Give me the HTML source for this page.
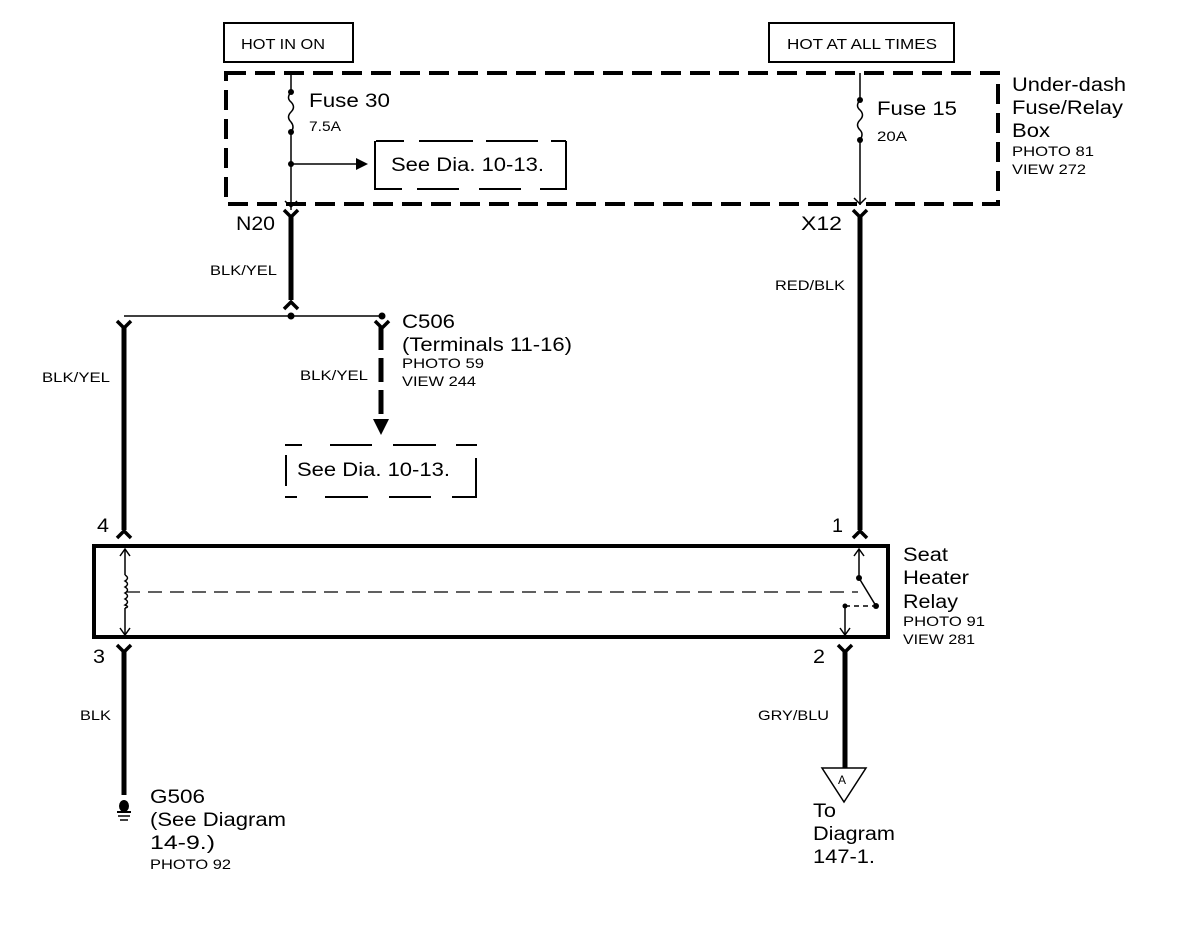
<!DOCTYPE html>
<html><head><meta charset="utf-8"><style>
html,body{margin:0;padding:0;background:#fff;}
svg{display:block;}
text{font-family:"Liberation Sans",Arial,sans-serif;fill:#000;}
</style></head><body>
<svg width="1184" height="940" viewBox="0 0 1184 940" xmlns="http://www.w3.org/2000/svg">
<rect width="1184" height="940" fill="#fff"/>
<rect x="224" y="23" width="129" height="39" fill="none" stroke="#000" stroke-width="2"/>
<text x="241" y="49" font-size="15" textLength="84" lengthAdjust="spacingAndGlyphs">HOT IN ON</text>
<rect x="769" y="23" width="185" height="39" fill="none" stroke="#000" stroke-width="2"/>
<text x="787" y="49" font-size="15" textLength="150" lengthAdjust="spacingAndGlyphs">HOT AT ALL TIMES</text>
<rect x="226" y="73" width="772" height="131" fill="none" stroke="#000" stroke-width="4" stroke-dasharray="20,9"/>
<text x="1012" y="91" font-size="19" textLength="114" lengthAdjust="spacingAndGlyphs">Under-dash</text>
<text x="1012" y="114" font-size="19" textLength="111" lengthAdjust="spacingAndGlyphs">Fuse/Relay</text>
<text x="1012" y="137" font-size="19" textLength="38" lengthAdjust="spacingAndGlyphs">Box</text>
<text x="1012" y="156" font-size="14" textLength="82" lengthAdjust="spacingAndGlyphs">PHOTO 81</text>
<text x="1012" y="174" font-size="14" textLength="74" lengthAdjust="spacingAndGlyphs">VIEW 272</text>
<line x1="291" y1="73" x2="291" y2="92" stroke="#000" stroke-width="1.5"/>
<circle cx="291" cy="92" r="3"/>
<path d="M291 92 q-5 6 0 10 q5 5 0 10 q-5 5 0 10 q4 5 0 10" fill="none" stroke="#000" stroke-width="1.5"/>
<circle cx="291" cy="132" r="3"/>
<line x1="291" y1="132" x2="291" y2="210" stroke="#000" stroke-width="1.5"/>
<circle cx="291" cy="164" r="3"/>
<line x1="291" y1="164" x2="358" y2="164" stroke="#000" stroke-width="1.5"/>
<polygon points="356,158 368,164 356,170"/>
<polyline points="285,201 291,207 297,201" fill="none" stroke="#000" stroke-width="1.5"/>
<text x="309" y="107" font-size="19" textLength="81" lengthAdjust="spacingAndGlyphs">Fuse 30</text>
<text x="309" y="131" font-size="14" textLength="32" lengthAdjust="spacingAndGlyphs">7.5A</text>
<path d="M375 152 V190 M376 189 H402 M417 189 H459 M479 189 H521 M540 189 H566 M566 190 V141 M566 141 H551 M538 141 H486 M473 141 H419 M404 141 H376 M375 152 V141" fill="none" stroke="#000" stroke-width="2"/>
<text x="391" y="171" font-size="19" textLength="153" lengthAdjust="spacingAndGlyphs">See Dia. 10-13.</text>
<line x1="860" y1="73" x2="860" y2="100" stroke="#000" stroke-width="1.5"/>
<circle cx="860" cy="100" r="3"/>
<path d="M860 100 q-5 6 0 10 q5 5 0 10 q-5 5 0 10 q4 4 0 10" fill="none" stroke="#000" stroke-width="1.5"/>
<circle cx="860" cy="140" r="3"/>
<line x1="860" y1="140" x2="860" y2="205" stroke="#000" stroke-width="1.5"/>
<polyline points="854,198 860,204 866,198" fill="none" stroke="#000" stroke-width="1.5"/>
<text x="877" y="115" font-size="19" textLength="80" lengthAdjust="spacingAndGlyphs">Fuse 15</text>
<text x="877" y="141" font-size="14" textLength="30" lengthAdjust="spacingAndGlyphs">20A</text>
<text x="236" y="230" font-size="19" textLength="39" lengthAdjust="spacingAndGlyphs">N20</text>
<polyline points="284,210 291,217 298,210" fill="none" stroke="#000" stroke-width="3.5"/>
<line x1="291" y1="215" x2="291" y2="300" stroke="#000" stroke-width="5"/>
<polyline points="284,309 291,302 298,309" fill="none" stroke="#000" stroke-width="3.5"/>
<text x="210" y="275" font-size="14" textLength="67" lengthAdjust="spacingAndGlyphs">BLK/YEL</text>
<line x1="124" y1="316" x2="382" y2="316" stroke="#000" stroke-width="1.5"/>
<circle cx="291" cy="316" r="3.5"/>
<circle cx="382" cy="316" r="3.5"/>
<polyline points="117,321 124,328 131,321" fill="none" stroke="#000" stroke-width="3.5"/>
<line x1="124" y1="326" x2="124" y2="530" stroke="#000" stroke-width="5"/>
<polyline points="117,538 124,531 131,538" fill="none" stroke="#000" stroke-width="3.5"/>
<text x="42" y="382" font-size="14" textLength="68" lengthAdjust="spacingAndGlyphs">BLK/YEL</text>
<text x="97" y="532" font-size="19" textLength="12" lengthAdjust="spacingAndGlyphs">4</text>
<polyline points="375,321 382,328 389,321" fill="none" stroke="#000" stroke-width="3.5"/>
<line x1="381" y1="326" x2="381" y2="420" stroke="#000" stroke-width="5" stroke-dasharray="24,8"/>
<polygon points="373,419 389,419 381,435"/>
<text x="402" y="328" font-size="19" textLength="53" lengthAdjust="spacingAndGlyphs">C506</text>
<text x="402" y="351" font-size="19" textLength="170" lengthAdjust="spacingAndGlyphs">(Terminals 11-16)</text>
<text x="402" y="368" font-size="14" textLength="82" lengthAdjust="spacingAndGlyphs">PHOTO 59</text>
<text x="402" y="386" font-size="14" textLength="74" lengthAdjust="spacingAndGlyphs">VIEW 244</text>
<text x="300" y="380" font-size="14" textLength="68" lengthAdjust="spacingAndGlyphs">BLK/YEL</text>
<path d="M285 445 H302 M330 445 H372 M393 445 H436 M456 445 H477 M286 455 V486 M476 458 V497 M285 497 H297 M325 497 H368 M389 497 H431 M452 497 H477" fill="none" stroke="#000" stroke-width="2"/>
<text x="297" y="476" font-size="19" textLength="153" lengthAdjust="spacingAndGlyphs">See Dia. 10-13.</text>
<text x="801" y="230" font-size="19" textLength="41" lengthAdjust="spacingAndGlyphs">X12</text>
<polyline points="853,210 860,217 867,210" fill="none" stroke="#000" stroke-width="3.5"/>
<line x1="860" y1="215" x2="860" y2="530" stroke="#000" stroke-width="5"/>
<polyline points="853,538 860,531 867,538" fill="none" stroke="#000" stroke-width="3.5"/>
<text x="775" y="290" font-size="14" textLength="70" lengthAdjust="spacingAndGlyphs">RED/BLK</text>
<text x="832" y="532" font-size="19" textLength="11" lengthAdjust="spacingAndGlyphs">1</text>
<rect x="94" y="546" width="794" height="91" fill="none" stroke="#000" stroke-width="4"/>
<text x="903" y="561" font-size="19" textLength="45" lengthAdjust="spacingAndGlyphs">Seat</text>
<text x="903" y="584" font-size="19" textLength="66" lengthAdjust="spacingAndGlyphs">Heater</text>
<text x="903" y="608" font-size="19" textLength="55" lengthAdjust="spacingAndGlyphs">Relay</text>
<text x="903" y="626" font-size="14" textLength="82" lengthAdjust="spacingAndGlyphs">PHOTO 91</text>
<text x="903" y="644" font-size="14" textLength="72" lengthAdjust="spacingAndGlyphs">VIEW 281</text>
<line x1="125" y1="549" x2="125" y2="575" stroke="#000" stroke-width="1.5"/>
<line x1="125" y1="608" x2="125" y2="635" stroke="#000" stroke-width="1.5"/>
<polyline points="120,556 125,549 130,556" fill="none" stroke="#000" stroke-width="1.5"/>
<polyline points="120,628 125,635 130,628" fill="none" stroke="#000" stroke-width="1.5"/>
<path d="M125 575 q5 3 0 6 q5 3 0 6 q5 3 0 6 q5 3 0 6 q5 3 0 6 q5 2 0 3" fill="none" stroke="#000" stroke-width="1.5"/>
<line x1="126" y1="592" x2="858" y2="592" stroke="#000" stroke-width="1.2" stroke-dasharray="14,8"/>
<line x1="859" y1="549" x2="859" y2="578" stroke="#000" stroke-width="1.5"/>
<polyline points="854,556 859,549 864,556" fill="none" stroke="#000" stroke-width="1.5"/>
<circle cx="859" cy="578" r="3"/>
<line x1="859" y1="578" x2="876" y2="606" stroke="#000" stroke-width="1.5"/>
<circle cx="876" cy="606" r="3"/>
<line x1="845" y1="606" x2="873" y2="606" stroke="#000" stroke-width="1.5" stroke-dasharray="5,4"/>
<circle cx="845" cy="606" r="2.5"/>
<line x1="845" y1="606" x2="845" y2="635" stroke="#000" stroke-width="1.5"/>
<polyline points="840,628 845,635 850,628" fill="none" stroke="#000" stroke-width="1.5"/>
<text x="93" y="663" font-size="19" textLength="12" lengthAdjust="spacingAndGlyphs">3</text>
<polyline points="117,645 124,652 131,645" fill="none" stroke="#000" stroke-width="3.5"/>
<line x1="124" y1="650" x2="124" y2="795" stroke="#000" stroke-width="5"/>
<text x="80" y="720" font-size="14" textLength="31" lengthAdjust="spacingAndGlyphs">BLK</text>
<ellipse cx="124" cy="806" rx="5" ry="6"/>
<line x1="117" y1="812" x2="131" y2="812" stroke="#000" stroke-width="2"/>
<line x1="118" y1="816" x2="130" y2="816" stroke="#000" stroke-width="1.5"/>
<line x1="120" y1="820" x2="128" y2="820" stroke="#000" stroke-width="1.5"/>
<text x="150" y="803" font-size="19" textLength="55" lengthAdjust="spacingAndGlyphs">G506</text>
<text x="150" y="826" font-size="19" textLength="136" lengthAdjust="spacingAndGlyphs">(See Diagram</text>
<text x="150" y="849" font-size="19" textLength="65" lengthAdjust="spacingAndGlyphs">14-9.)</text>
<text x="150" y="869" font-size="14" textLength="81" lengthAdjust="spacingAndGlyphs">PHOTO 92</text>
<text x="813" y="663" font-size="19" textLength="12" lengthAdjust="spacingAndGlyphs">2</text>
<polyline points="838,645 845,652 852,645" fill="none" stroke="#000" stroke-width="3.5"/>
<line x1="845" y1="650" x2="845" y2="768" stroke="#000" stroke-width="5"/>
<text x="758" y="720" font-size="14" textLength="71" lengthAdjust="spacingAndGlyphs">GRY/BLU</text>
<polygon points="822,768 866,768 844,802" fill="none" stroke="#000" stroke-width="1.5"/>
<text x="838" y="784" font-size="12">A</text>
<text x="813" y="817" font-size="19" textLength="23" lengthAdjust="spacingAndGlyphs">To</text>
<text x="813" y="840" font-size="19" textLength="82" lengthAdjust="spacingAndGlyphs">Diagram</text>
<text x="813" y="863" font-size="19" textLength="62" lengthAdjust="spacingAndGlyphs">147-1.</text>
</svg>
</body></html>
